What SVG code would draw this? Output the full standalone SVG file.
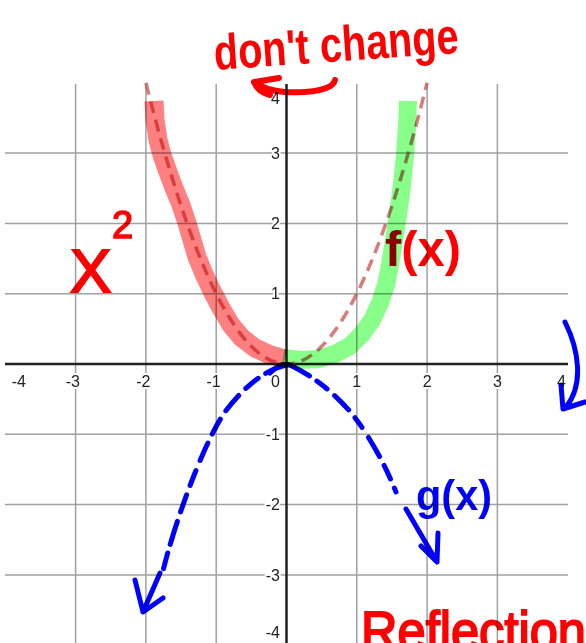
<svg xmlns="http://www.w3.org/2000/svg" width="586" height="643" viewBox="0 0 586 643">
<style>
.grid{stroke:#a0a0a0;stroke-width:1.5;fill:none}
.axis{stroke:#222;stroke-width:2.5;fill:none}
.lbl{font-family:"Liberation Sans",Arial,sans-serif;font-size:16px;fill:#222;stroke:#fff;stroke-width:4;paint-order:stroke;stroke-linejoin:round}
.xl{text-anchor:middle}
.end{text-anchor:end}
.hl{fill:none;stroke-linecap:butt;stroke-linejoin:round;mix-blend-mode:multiply}
.ink{font-family:"Liberation Sans",Arial,sans-serif;mix-blend-mode:multiply}
.red{fill:#ff0000}
.blue{fill:#0000ff}
.bs{fill:none;stroke:#0000ff;stroke-width:5;stroke-linecap:round;stroke-linejoin:round;mix-blend-mode:multiply}
.rs{fill:none;stroke:#ff0000;stroke-width:6;stroke-linecap:round;stroke-linejoin:round;mix-blend-mode:multiply}
</style>
<rect x="0" y="0" width="586" height="643" fill="#fff"/>
<g id="grid">
<path class="grid" d="M75.6,84V643M145.9,84V643M216.2,84V643M356.8,84V643M427.1,84V643M497.4,84V643"/>
<path class="grid" d="M5,153.1H568M5,223.4H568M5,293.7H568M5,434.3H568M5,504.6H568M5,574.9H568"/>
</g>
<g id="axes">
<path class="axis" d="M5,364H568M286.5,84V643"/>
</g>
<g id="axis-labels">
<text class="lbl end" x="26" y="387">-4</text>
<text class="lbl end" x="80" y="387">-3</text>
<text class="lbl end" x="150.4" y="387">-2</text>
<text class="lbl end" x="220.7" y="387">-1</text>
<text class="lbl end" x="280" y="387">0</text>
<text class="lbl xl" x="356.8" y="387">1</text>
<text class="lbl xl" x="427.1" y="387">2</text>
<text class="lbl xl" x="497.4" y="387">3</text>
<text class="lbl end" x="566" y="387">4</text>
<text class="lbl end" x="280" y="104">4</text>
<text class="lbl end" x="280" y="158.8">3</text>
<text class="lbl end" x="280" y="229.1">2</text>
<text class="lbl end" x="280" y="299.4">1</text>
<text class="lbl end" x="280" y="440">-1</text>
<text class="lbl end" x="280" y="510.3">-2</text>
<text class="lbl end" x="280" y="580.6">-3</text>
<text class="lbl end" x="280" y="637.5">-4</text>
</g>
<g id="parabola">
<path d="M145.9,82.8Q286.5,645.2 427.1,82.8" fill="none" stroke="#c74440" stroke-opacity="0.7" stroke-width="3.5" stroke-dasharray="12 7"/>
</g>
<g id="highlights">
<path class="hl" stroke="#ff8080" stroke-width="19" d="M154,101 L155,120 L158,140 L162,155 L168,172 L174,188 L181,205 L187,223 L192,240 L197,257 L204,274 L212,291 L221,308 L231,325 L242,338 L255,348 L268,354 L285,359"/>
<path class="hl" stroke="#88ff88" stroke-width="18" d="M283,358 L300,360 L318,359 L335,354 L350,346 L362,334 L372,320 L380,303 L386,285 L390,265 L394,240 L398,215 L402,185 L405,155 L407,128 L408,101"/>
</g>
<g id="annotations">
<text class="ink red" x="215" y="70" font-size="50" font-weight="bold" textLength="245" lengthAdjust="spacingAndGlyphs" transform="rotate(-4 215 70)">don't change</text>
<path class="rs" d="M335,80 C333,90 310,93 285,92 C272,91 262,88 254,82 L279,78 M254,82 Q258,92 270,95"/>
<text class="ink red" x="70" y="292" font-size="62" stroke="#ff0000" stroke-width="2">X</text>
<text class="ink red" x="112" y="238" font-size="38" stroke="#ff0000" stroke-width="1.5">2</text>
<text class="ink red" x="385" y="266" font-size="50" font-weight="bold" textLength="76" lengthAdjust="spacingAndGlyphs">f(x)</text>
<text class="ink blue" x="416" y="510" font-size="42" font-weight="bold" textLength="76" lengthAdjust="spacingAndGlyphs">g(x)</text>
<text class="ink red" x="361" y="650" font-size="56" stroke="#ff0000" stroke-width="2" textLength="225" lengthAdjust="spacingAndGlyphs">Reflection</text>
</g>
<g id="connectors">
<path class="bs" stroke-dasharray="24 9 16 10 20 10 17 10 19 11 16 10 18 10" d="M288,365 C268,368 245,385 225,412 C205,440 175,520 162,575"/>
<path class="bs" d="M160,573 L143,612 M135,580 L143,612 L163,598"/>
<path class="bs" stroke-dasharray="45 9 13 10 20 10 12 12 22 10 15 10" d="M270,373 C278,365 284,363 290,365 C325,382 350,408 365,432 C378,452 388,472 396,492"/>
<path class="bs" d="M406,509 L437,562 M421,546 L437,562 L438,533"/>
<path class="bs" d="M565,322 C579,350 584,385 566,407 M561,385 L563,409 L585,402"/>
</g>
</svg>
